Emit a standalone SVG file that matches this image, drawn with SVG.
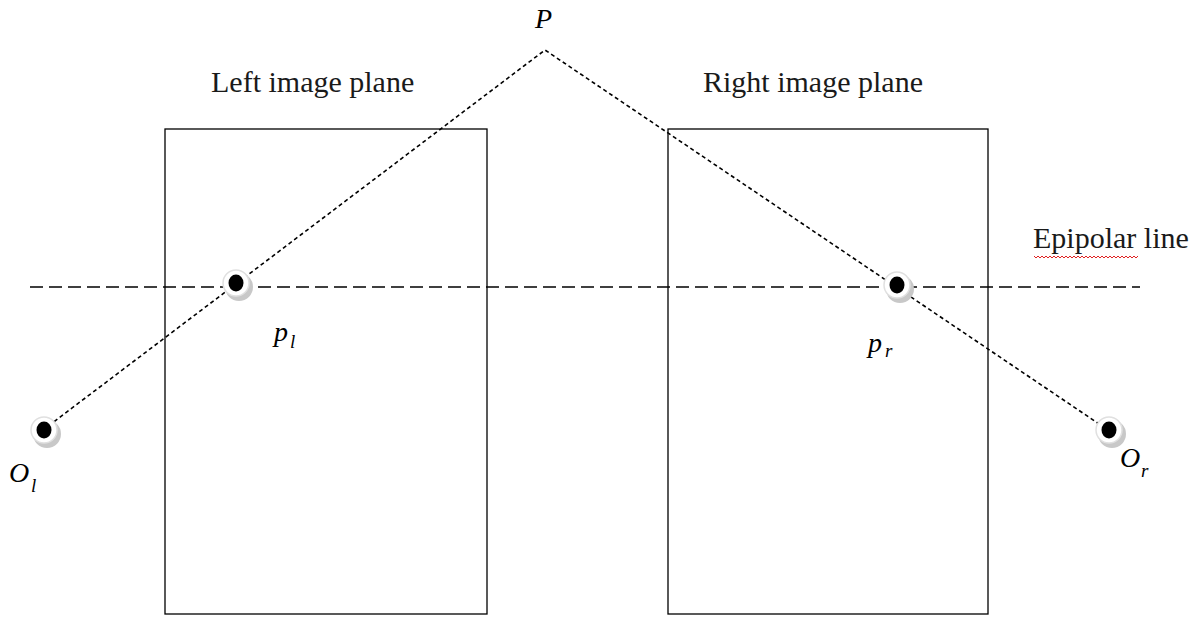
<svg xmlns="http://www.w3.org/2000/svg" width="1200" height="617" viewBox="0 0 1200 617">
<style>
.plane{fill:none;stroke:#000;stroke-width:1.3}
.ray{fill:none;stroke:#000;stroke-width:1.6;stroke-dasharray:4 3}
.epi{fill:none;stroke:#000;stroke-width:1.6;stroke-dasharray:13 6}
.lbl{font-family:"Liberation Serif",serif;font-size:30px;fill:#1a1a1a}
.math{font-family:"Liberation Serif",serif;font-style:italic;font-size:28px;fill:#000}
.sub{font-family:"Liberation Serif",serif;font-style:italic;font-size:19px;fill:#000}
.shadow{fill:#c8c8c8}
.halo{fill:#fff;stroke:#e0e0e0;stroke-width:1.5}
.dot{fill:#000}
</style>
<rect width="1200" height="617" fill="#fff"/>
<g id="left-plane"><rect class="plane" x="165" y="129" width="322" height="485"/></g>
<g id="right-plane"><rect class="plane" x="668" y="129" width="320" height="485"/></g>
<g id="connectors">
<line class="epi" x1="30" y1="287" x2="1140" y2="287"/>
<polyline class="ray" points="43,430 545,50 1108,430"/>
</g>
<g id="Ol"><circle class="shadow" cx="47" cy="434" r="14"/><circle class="halo" cx="44" cy="430" r="13"/><ellipse class="dot" cx="44" cy="430" rx="7.5" ry="8.5"/></g>
<g id="pl"><circle class="shadow" cx="239" cy="287" r="14"/><circle class="halo" cx="236" cy="283" r="13"/><ellipse class="dot" cx="236" cy="283" rx="7.5" ry="8.5"/></g>
<g id="pr"><circle class="shadow" cx="900" cy="289" r="14"/><circle class="halo" cx="897" cy="285" r="13"/><ellipse class="dot" cx="897" cy="285" rx="7.5" ry="8.5"/></g>
<g id="Or"><circle class="shadow" cx="1112" cy="434" r="14"/><circle class="halo" cx="1109" cy="430" r="13"/><ellipse class="dot" cx="1109" cy="430" rx="7.5" ry="8.5"/></g>
<g id="labels">
<text class="math" x="535" y="28" font-size="29">P</text>
<text class="lbl" x="211" y="92">Left image plane</text>
<text class="lbl" x="703" y="92">Right image plane</text>
<text class="lbl" x="1033" y="248">Epipolar line</text>
<polyline fill="none" stroke="#e02020" stroke-width="1" points="1034,256 1036,258 1038,256 1040,258 1042,256 1044,258 1046,256 1048,258 1050,256 1052,258 1054,256 1056,258 1058,256 1060,258 1062,256 1064,258 1066,256 1068,258 1070,256 1072,258 1074,256 1076,258 1078,256 1080,258 1082,256 1084,258 1086,256 1088,258 1090,256 1092,258 1094,256 1096,258 1098,256 1100,258 1102,256 1104,258 1106,256 1108,258 1110,256 1112,258 1114,256 1116,258 1118,256 1120,258 1122,256 1124,258 1126,256 1128,258 1130,256 1132,258 1134,256 1136,258 1138,256"/>
<text class="math" x="274" y="341">p</text><text class="sub" x="290" y="348">l</text>
<text class="math" x="868" y="352">p</text><text class="sub" x="885" y="357">r</text>
<text class="math" x="9" y="482">O</text><text class="sub" x="31" y="492">l</text>
<text class="math" x="1120" y="467">O</text><text class="sub" x="1141" y="477">r</text>
</g>
</svg>
